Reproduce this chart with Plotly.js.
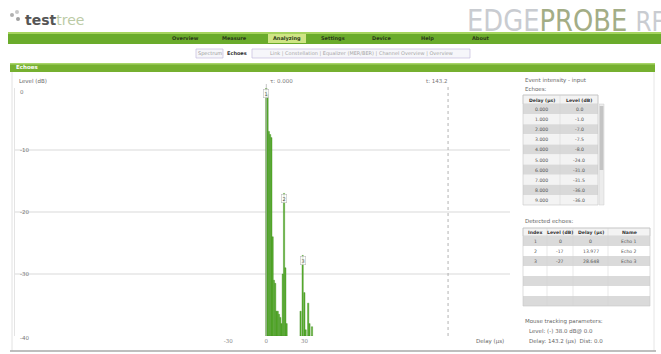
<!DOCTYPE html>
<html><head><meta charset="utf-8">
<script src="https://cdn.plot.ly/plotly-3.0.1.min.js"></script>
<style>html,body{margin:0;padding:0;background:#fff;overflow:hidden}#c{width:661px;height:354px}</style>
</head><body><div id="c"></div>
<script>
// ---- data ----
const delays = [0,1,2,3,4,5,6,7,8,9,10,11,12,13,13.977,15,16,27,28.648,30,31,33,34,36];
const levels = [0,-1,-7,-7.5,-8,-24,-31,-31.5,-36,-36,-36.5,-37,-38,-30,-17,-29,-38,-36,-27,-33,-39,-34.7,-38,-38.5];
const levelFloor = -40;
const yTicks = [0,-10,-20,-30,-40];
const xTicks = [-30,0,30];
const cursorDelay = 143.2;
const echoIndex = [1,2,3];
const echoLevel = [0,-17,-27];
const echoDelay = [0,13.977,28.648];
const echoName = ['Echo 1','Echo 2','Echo 3'];
const navItems = ['Overview','Measure','Analyzing','Settings','Device','Help','About'];
const tabItems = ['Spectrum','Echoes'];
const tabLinks = 'Link | Constellation | Equalizer (MER/BER) | Channel Overview | Overview';
const table1Head = ['Delay (µs)','Level (dB)'];
const table2Head = ['Index','Level (dB)','Delay (µs)','Name'];

// ---- helpers ----
const W=661,H=354;
const X=p=>p/W, Y=p=>1-p/H;
const F='DejaVu Sans';
const navX=[185,235,287,333,381,427,480];
const green='#58b12c', dgreen='#3e8c1e';

const shapes=[], annotations=[];
const rect=(x0,y0,x1,y1,fill,line)=>shapes.push({type:'rect',xref:'paper',yref:'paper',x0:X(x0),x1:X(x1),y0:Y(y1),y1:Y(y0),
  fillcolor:fill,line:line||{width:0}});
const ann=(x,y,text,o={})=>annotations.push(Object.assign({xref:'paper',yref:'paper',x:X(x),y:Y(y),text,showarrow:false,
  xanchor:'left',yanchor:'middle',font:{family:F,size:5.5,color:'#666'}},o));

function drawTable(colEdges,top,headH,rowH,nRows,head,cols,rowFills){
  const x0=colEdges[0],x1=colEdges[colEdges.length-1];
  rect(x0,top,x1,top+headH,'#f3f3f3',{color:'#c6c6c6',width:0.6});
  for(let r=0;r<nRows;r++){
    const y0=top+headH+r*rowH;
    rect(x0,y0,x1,y0+rowH,rowFills[r%rowFills.length],{width:0});
  }
  rect(x0,top,x1,top+headH+nRows*rowH,'rgba(0,0,0,0)',{color:'#c6c6c6',width:0.6});
  for(let c=1;c<colEdges.length-1;c++)
    shapes.push({type:'line',xref:'paper',yref:'paper',x0:X(colEdges[c]),x1:X(colEdges[c]),y0:Y(top+headH+nRows*rowH),y1:Y(top),
      line:{color:'#d2d2d2',width:0.5}});
  head.forEach((h,c)=>ann((colEdges[c]+colEdges[c+1])/2,top+headH/2+0.5,'<b>'+h+'</b>',{xanchor:'center',font:{family:F,size:4.6,color:'#333'}}));
  cols.forEach((col,c)=>col.forEach((v,r)=>ann((colEdges[c]+colEdges[c+1])/2,top+headH+r*rowH+rowH/2+0.5,String(v),
    {xanchor:'center',font:{family:F,size:4.6,color:'#555'}})));
}

// ---- page chrome ----
[[10,13,4,'#b0b0b0'],[15,10,4,'#c8c8c8'],[16,17,4,'#a0a0a0']].forEach(([x,y,s,c])=>
  shapes.push({type:'circle',xref:'paper',yref:'paper',x0:X(x),x1:X(x+s),y0:Y(y+s),y1:Y(y),fillcolor:c,line:{width:0}}));
rect(8,32,661,44,'#6aab2b');
rect(8,32,661,34,'#a6d45e');
rect(268,34,306,43,'#cfe585');
rect(196,49,223,58,'#f6f6fa',{color:'#c4bcdc',width:0.7});
rect(252,49,470,58,'#f6f6fa',{color:'#c4bcdc',width:0.7});
rect(10,63,655,72,'#76b030');
rect(10,63,655,64.5,'#a8d468');
shapes.push({type:'line',xref:'paper',yref:'paper',x0:X(12),x1:X(12),y0:Y(351),y1:Y(72),line:{color:'#e2e2e2',width:1}});
shapes.push({type:'line',xref:'paper',yref:'paper',x0:X(654),x1:X(654),y0:Y(351),y1:Y(72),line:{color:'#e6e6e6',width:1}});
shapes.push({type:'line',xref:'paper',yref:'paper',x0:X(10),x1:X(656),y0:Y(351),y1:Y(351),line:{color:'#a8a8a8',width:1.6}});
shapes.push({type:'line',xref:'x',yref:'paper',x0:0,x1:0,y0:Y(336),y1:Y(84),line:{color:'#b8b8b8',width:0.8}});
shapes.push({type:'line',xref:'x',yref:'paper',x0:cursorDelay,x1:cursorDelay,y0:Y(336),y1:Y(84),line:{color:'#a0a0a0',width:0.8,dash:'dot'}});

ann(23,20,'<b>test</b><span style="color:#bccba6">tree</span>',{font:{family:F,size:14,color:'#555'}});
ann(465,20,'EDGE<span style="color:#a3ad86">PROBE</span> <span style="font-size:27px">RF</span>',{height:24,font:{family:F,size:30,color:'#c9ccd1'}});
navItems.forEach((t,i)=>ann(navX[i],38.5,'<b>'+t+'</b>',{xanchor:'center',font:{family:F,size:5,color:'#2a3a18'}}));
ann(209.5,53.5,tabItems[0],{xanchor:'center',font:{family:F,size:5,color:'#9a9a9a'}});
ann(237,53.5,'<b>'+tabItems[1]+'</b>',{xanchor:'center',font:{family:F,size:5,color:'#333'}});
ann(361,53.5,tabLinks,{xanchor:'center',font:{family:F,size:5,color:'#a6a6a6'}});
ann(14,67.5,'<b>Echoes</b>',{font:{family:F,size:5.5,color:'#ffffff'}});

ann(17,81,'Level (dB)');
ann(268,81,'τ: 0.000',{font:{family:F,size:5.5,color:'#777'}});
ann(450,81,'t: '+cursorDelay.toFixed(1),{xanchor:'right',font:{family:F,size:5.5,color:'#777'}});
ann(506,341,'Delay (µs)',{xanchor:'right'});
yTicks.forEach(v=>annotations.push({xref:'paper',yref:'y',x:X(18),y:v,text:String(v),showarrow:false,xanchor:'left',
  yanchor:v===0?'top':'middle',yshift:v===0?1:(v===levelFloor?-2:0),font:{family:F,size:5.5,color:'#777'}}));
echoIndex.forEach((t,i)=>annotations.push({xref:'x',yref:'y',x:echoDelay[i],y:echoLevel[i],text:String(t),showarrow:false,
  xanchor:'center',yanchor:'top',yshift:-1,bgcolor:'rgba(255,255,255,0.85)',bordercolor:'#bdbdbd',borderwidth:0.6,borderpad:1,
  font:{family:F,size:5,color:'#555'}}));

ann(523,80,'Event intensity - input');
ann(523,89,'Echoes:');
const t1n=10;
drawTable([523,560,598],95,9,10.1,t1n,table1Head,
  [delays.slice(0,t1n).map(v=>v.toFixed(3)),levels.slice(0,t1n).map(v=>v.toFixed(1))],['#d9d9d9','#f3f3f3']);
rect(599,104,604,205,'#ececec',{color:'#cfcfcf',width:0.5});
rect(599.6,106,603.4,170,'#c4c4c4');
ann(523,221,'Detected echoes:');
drawTable([523,547,573,608,650],228,8,10,7,table2Head,
  [echoIndex.map(String),echoLevel.map(String),echoDelay.map(String),echoName],['#dadada','#ffffff']);
ann(523,321,'Mouse tracking parameters:');
ann(527,331,'Level: (-) 38.0 dB@ 0.0');
ann(527,341,'Delay: '+cursorDelay.toFixed(1)+' (µs)  Dist: 0.0');

const bars={type:'bar',x:delays,y:levels.map(v=>v-levelFloor),base:levelFloor,width:1,
  marker:{color:green,line:{color:dgreen,width:0.4}},hoverinfo:'skip'};

const layout={width:W,height:H,margin:{l:0,r:0,t:0,b:0},paper_bgcolor:'#fff',plot_bgcolor:'#fff',showlegend:false,bargap:0,
  xaxis:{domain:[X(15),X(510)],range:[-198,192],tickvals:xTicks,ticktext:xTicks.map(String),showgrid:false,zeroline:false,
    showline:false,ticks:'',tickfont:{family:F,size:5.5,color:'#888'},fixedrange:true},
  yaxis:{domain:[Y(336),Y(88)],range:[levelFloor,0],tickvals:yTicks,showticklabels:false,
    showgrid:true,gridcolor:'#ececec',gridwidth:1.5,zeroline:false,showline:true,linecolor:'#e4e4e4',linewidth:1,ticks:'',fixedrange:true},
  shapes,annotations};
Plotly.newPlot('c',[bars],layout,{staticPlot:true,displayModeBar:false}).then(gd=>{
  gd.querySelectorAll('text.annotation-text').forEach(t=>{
    if(t.textContent.indexOf('EDGE')===0){
      const b=t.getBBox();
      t.setAttribute('transform','translate('+b.x+',0) scale(0.86,1) translate('+(-b.x)+',0)');
    }
  });
});
</script></body></html>
